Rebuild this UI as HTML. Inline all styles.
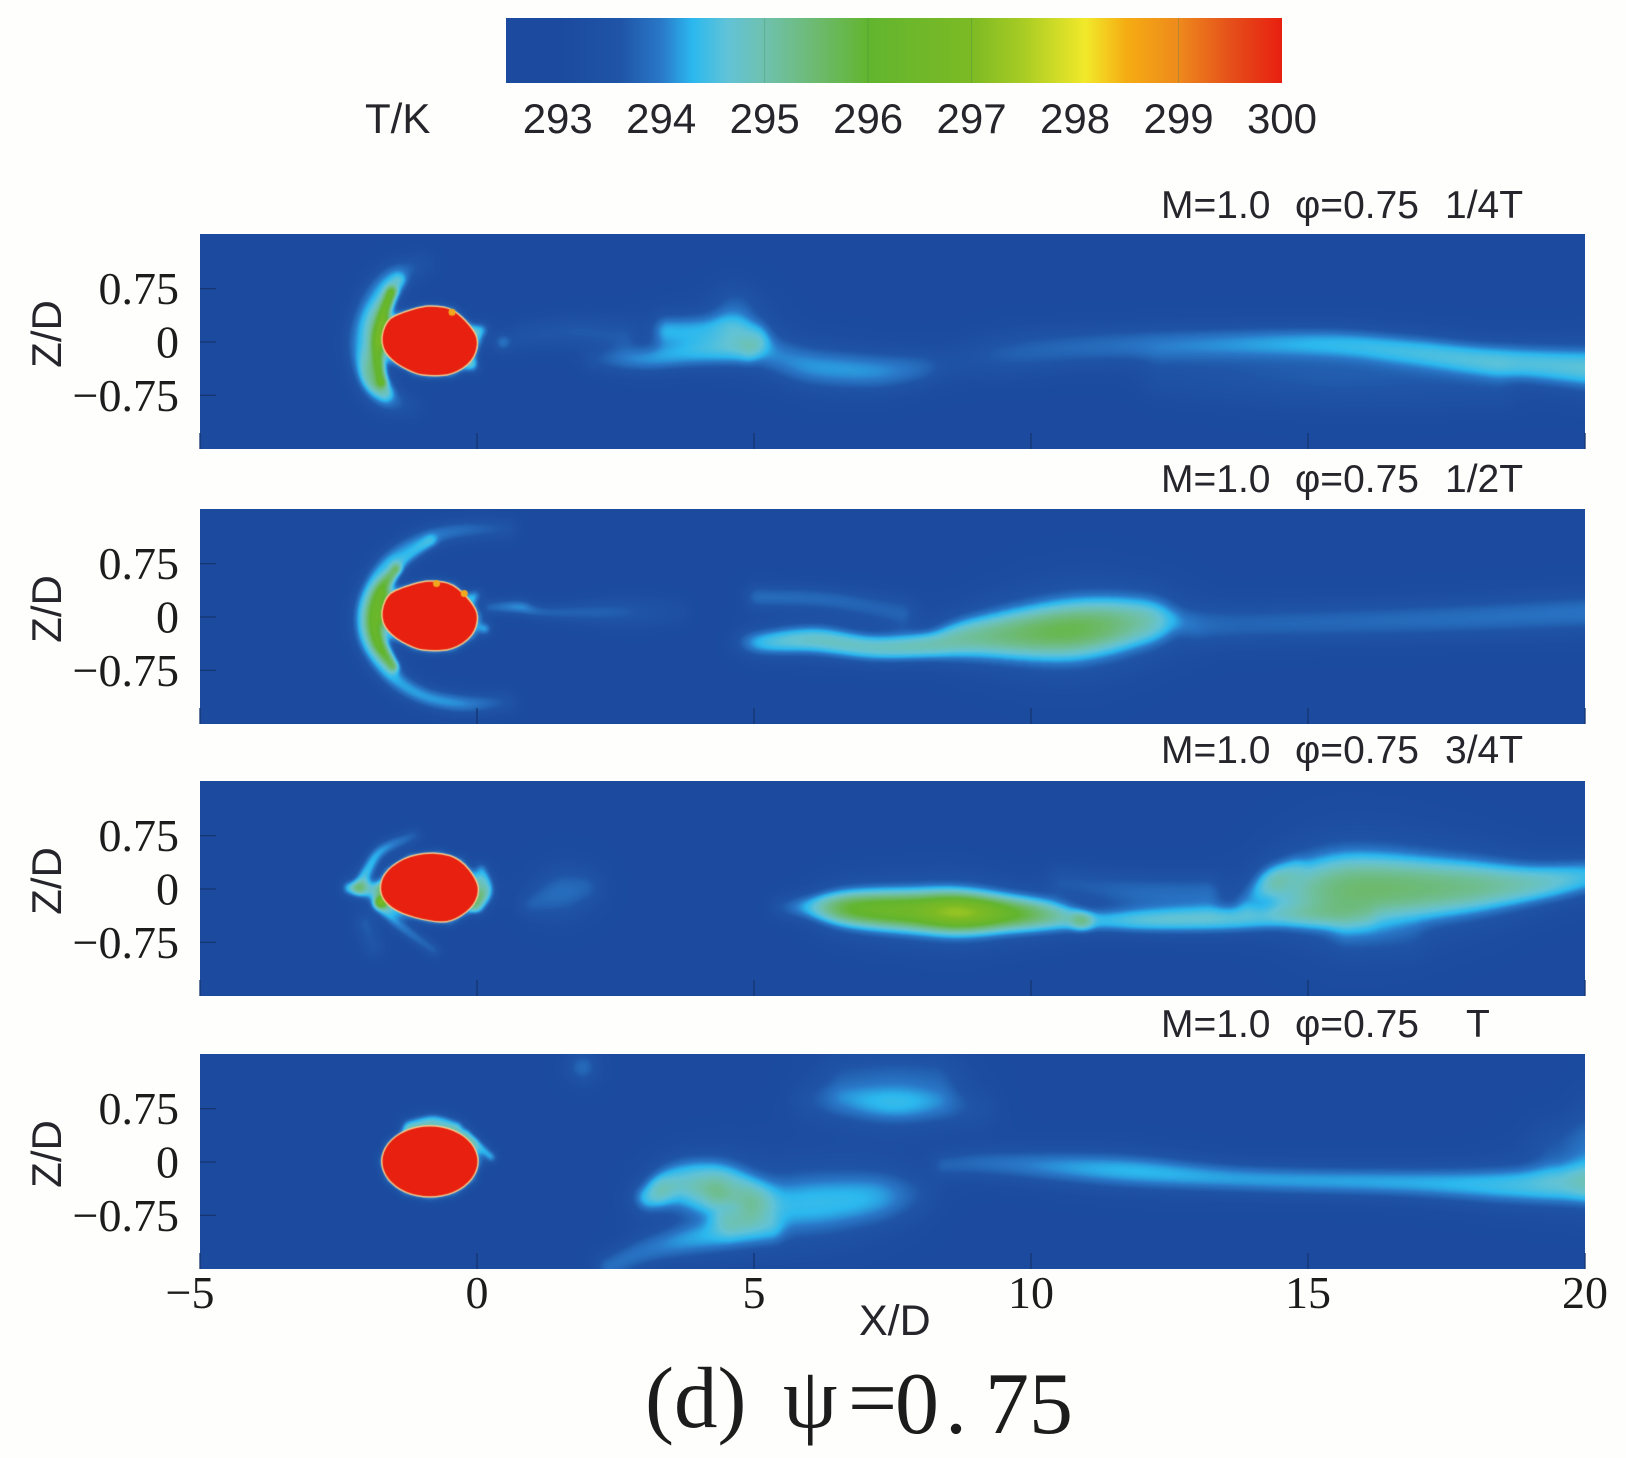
<!DOCTYPE html>
<html lang="en">
<head>
<meta charset="utf-8">
<title>Temperature contours ψ=0.75</title>
<style>
html,body{margin:0;padding:0;background:#fefefd;}
#stage{position:relative;width:1626px;height:1458px;overflow:hidden;background:#fefefd;}
canvas{position:absolute;display:block;}
svg{position:absolute;left:0;top:0;}
.sans{font-family:"Liberation Sans","DejaVu Sans",sans-serif;fill:#25252b;}
.serif{font-family:"Liberation Serif","DejaVu Serif",serif;fill:#1c1c1c;}
</style>
</head>
<body>
<div id="stage">
  <canvas id="p0" width="1385" height="215" style="left:200px;top:234px"></canvas>
  <canvas id="p1" width="1385" height="215" style="left:200px;top:509px"></canvas>
  <canvas id="p2" width="1385" height="215" style="left:200px;top:781px"></canvas>
  <canvas id="p3" width="1385" height="215" style="left:200px;top:1054px"></canvas>
  <svg id="ov" width="1626" height="1458" viewBox="0 0 1626 1458" xmlns="http://www.w3.org/2000/svg">
    <defs><linearGradient id="cbGrad" x1="0" x2="1" y1="0" y2="0"></linearGradient></defs>
    <rect id="cbRect" x="506" y="18" width="776" height="65" fill="url(#cbGrad)"></rect>
    <g id="cbLines"></g>
    <text class="sans" x="365" y="133" font-size="42">T/K</text>
    <g id="cbLabels"></g>

    <g class="sans" font-size="39">
      <text class="sans" x="1161" y="218">M=1.0</text><text class="sans" x="1295" y="218">φ=0.75</text><text class="sans" x="1445" y="218">1/4T</text>
    </g>
    <g class="sans" font-size="39">
      <text class="sans" x="1161" y="492">M=1.0</text><text class="sans" x="1295" y="492">φ=0.75</text><text class="sans" x="1445" y="492">1/2T</text>
    </g>
    <g class="sans" font-size="39">
      <text class="sans" x="1161" y="763">M=1.0</text><text class="sans" x="1295" y="763">φ=0.75</text><text class="sans" x="1445" y="763">3/4T</text>
    </g>
    <g class="sans" font-size="39">
      <text class="sans" x="1161" y="1037">M=1.0</text><text class="sans" x="1295" y="1037">φ=0.75</text><text class="sans" x="1466" y="1037">T</text>
    </g>

    <g id="axes"></g>

    <text class="sans" x="859" y="1335" font-size="43">X/D</text>

    <g>
      <text class="serif" x="645" y="1427" font-size="87">(d)</text>
      <text class="serif" x="783" y="1427" font-size="87">ψ</text>
      <text class="serif" x="848" y="1427" font-size="87">=</text>
      <text class="serif" x="895" y="1433" font-size="88">0</text>
      <text class="serif" x="945" y="1433" font-size="88">.</text>
      <text class="serif" x="985" y="1433" font-size="88">75</text>
    </g>
  </svg>
</div>
<script>
/* ---------- data ---------- */
const colorbarTemps  = [292.5,293,293.6,294,294.3,294.65,295,295.5,296,297,297.5,298.1,298.5,299,299.5,300];
const colorbarColors = ['#1b4a9e','#1b4a9e','#1f54a6','#2a78c8','#2bb8ef','#62c3d6','#6fc1ae','#6dba70','#62b52f','#7cba24','#a8cc24','#f2e92a','#f5ac12','#ee8a1c','#e5501a','#e81f10'];
const colorbarTicks  = [293,294,295,296,297,298,299,300];
const colorbarLevelLines = [295,296,297,299];
const xTicks = [-5,0,5,10,15,20];
const xTickLabels = ['−5','0','5','10','15','20'];
const zTicks = [0.75,0,-0.75];
const zTickLabels = ['0.75','0','−0.75'];
const baseTemp = 293;

/* Cylinder outlines, [x/D, z/D] */
const cylinderA = [[-1.73,-0.01],[-1.62,.31],[-1.30,.42],[-.98,.49],[-.77,.50],[-.45,.465],[-.12,.22],[.02,.01],[-.09,-.27],[-.45,-.45],[-.84,-.47],[-1.12,-.435],[-1.55,-.25]];
const cylinderC = [[-1.75,.03],[-1.62,.27],[-1.22,.464],[-.70,.51],[-.30,.408],[-.02,.127],[.02,-.06],[-.11,-.27],[-.48,-.46],[-.85,-.445],[-1.37,-.34],[-1.66,-.18]];
const cylinderD = [[.03,.01],[-.09,.26],[-.41,.447],[-.85,.515],[-1.29,.447],[-1.61,.26],[-1.73,.01],[-1.61,-.244],[-1.29,-.429],[-.85,-.497],[-.41,-.429],[-.09,-.244]];

/* Hot spots on the cylinder rim, [x/D, z/D] */
const hotSpotsA = [[-.45,.42]];
const hotSpotsB = [[-.73,.47],[-.23,.33]];

/* Temperature field: ribbons of knots [x/D, z/D, width, rise in K] */
const panelAStrokes = [
 [[-.98,1.11,.18,.4],[-1.55,.92,.19,1.0],[-1.94,.55,.19,1.0],[-2.16,.03,.17,.95],[-2.02,-.435,.17,1.0],[-1.70,-.76,.19,1.0],[-1.23,-.90,.18,.4]],
 [[-1.41,.85,.1,.9],[-1.80,.36,.14,1.1],[-1.91,-.06,.14,1.1],[-1.91,-.48,.14,1.1],[-1.66,-.69,.11,.9]],
 [[-1.55,.71,.04,2.0],[-1.73,.3,.06,2.4],[-1.8,.03,.07,2.4],[-1.78,-.3,.06,2.4],[-1.72,-.55,.05,2.0]],
 [[.46,0,.11,.9]],
 [[.05,.17,.09,1.3]],
 [[-.09,-.34,.08,1.0]],
 [[.87,.1,.2,.55],[1.8,.15,.2,.65],[2.6,.1,.2,.6]],
 [[2.09,-.25,.1,.5],[2.94,-.24,.12,1.0],[3.94,-.18,.12,1.05],[4.8,-.15,.13,.95]],
 [[3.44,.17,.17,1.2],[4.3,.15,.2,1.15],[5.0,.08,.18,1.15]],
 [[4.66,.46,.3,.7]],
 [[5.2,-.14,.18,.7],[5.5,-.22,.24,.95],[6.09,-.34,.26,1.15],[7.16,-.4,.24,1.12],[7.94,-.365,.2,.85],[8.4,-.32,.18,.4]],
 [[8.9,-.22,.22,.45],[9.6,-.16,.25,.72],[10.9,-.07,.22,.84],[13.13,-.01,.18,.98],[15.34,-.01,.17,1.2],[16.8,-.11,.18,1.32],[18.29,-.25,.2,1.45],[20.2,-.37,.28,1.65]],
 [[12.4,-.45,.3,.4],[15.34,-.53,.36,.62],[18.29,-.62,.3,.4]]
];
const panelBStrokes = [
 [[.52,1.25,.14,.6],[-.34,1.22,.14,.9],[-1.05,1.08,.14,1.0],[-1.62,.78,.14,1.15],[-1.94,.36,.15,1.3],[-2.05,-.02,.15,1.3],[-1.94,-.4,.15,1.3],[-1.55,-.82,.15,1.25],[-.98,-1.1,.14,1.2],[-.27,-1.21,.14,1.1],[.52,-1.19,.14,.6]],
 [[-1.48,.66,.05,2.0],[-1.73,.36,.09,2.6],[-1.84,0,.11,2.7],[-1.77,-.35,.09,2.6],[-1.52,-.68,.05,2.0]],
 [[-1.41,.73,.07,.9],[-.84,1.06,.07,.7]],
 [[.23,.145,.08,.8],[.77,.145,.09,1.15],[1.23,.075,.08,.8],[2.52,.075,.13,.72],[3.6,.075,.13,.3]],
 [[.13,-.16,.07,1.25]],
 [[-.05,.31,.07,1.1]],
 [[4.75,-.35,.1,.5],[5.16,-.35,.12,1.4],[6.09,-.32,.14,1.8],[7.13,-.42,.12,1.8],[8.16,-.39,.14,1.95],[9,-.28,.27,2.2],[10.65,-.18,.42,2.75],[11.9,-.07,.36,2.1],[12.4,-.04,.24,1.3]],
 [[5.06,.29,.1,.85],[6.3,.26,.1,.8],[7.65,.075,.15,.72]],
 [[13.03,-.11,.22,.78],[15.42,-.07,.22,.82],[17.5,-.02,.22,.88],[20.2,.075,.24,.94]]
];
const panelCStrokes = [
 [[-2.32,.02,.08,1.3],[-1.81,-.01,.12,1.5]],
 [[-1.15,.76,.08,.75],[-1.73,.55,.08,1.25],[-1.99,.27,.08,1.4],[-2.14,.03,.08,1.3]],
 [[-1.77,-.2,.07,1.5],[-1.44,-.48,.07,1.1],[-.78,-.86,.07,.75]],
 [[-2.03,-.48,.14,.7],[-1.88,-.81,.14,.6]],
 [[.07,.27,.08,1.2],[.14,-.01,.1,1.9],[0,-.23,.08,1.9]],
 [[-1.75,-.18,.05,2.2]],
 [[1,-.2,.2,.75],[1.5,-.05,.36,.88],[1.9,.02,.26,.8]],
 [[5.49,-.25,.08,.6],[6,-.25,.12,1.4],[6.74,-.27,.2,3],[7.85,-.3,.24,3.6],[8.71,-.32,.24,4.3],[9.6,-.34,.2,3.2],[10.33,-.37,.16,2.2],[10.92,-.44,.06,1.2]],
 [[10.92,-.44,.07,1.1],[12.03,-.44,.1,1.5],[13.43,-.42,.12,1.5],[14.6,-.4,.1,1.0],[16,-.38,.1,.35]],
 [[13.9,-.15,.1,.6],[14.3,.12,.13,.95],[14.7,.3,.1,.5]],
 [[14.7,-.02,.38,1.55],[15.71,.01,.55,2.45],[17.55,.03,.42,2.35],[19,.08,.26,1.9],[20.2,.2,.2,1.3]],
 [[10.55,.13,.15,.55],[11.8,-.02,.2,.78],[13.13,-.04,.2,.78]],
 [[15.71,-.67,.2,.35],[16.8,-.72,.2,.3]]
];
const panelDStrokes = [
 [[-1.23,.52,.08,1.3],[-.79,.59,.08,1.4],[-.38,.5,.08,1.3]],
 [[-.2,.4,.045,1.3],[.25,.075,.045,1.35]],
 [[1.9,1.34,.2,.85]],
 [[5.99,.87,.2,.45],[7.1,.8,.2,.6],[7.98,.78,.2,.62],[9.07,.75,.2,.4]],
 [[6.73,1.1,.42,.72],[7.47,1.05,.5,.85],[8.2,1.1,.44,.76]],
 [[3.05,-.49,.14,1.1],[3.64,-.2,.22,1.2],[4.4,-.28,.3,1.5],[4.89,-.55,.32,1.3],[4.6,-.75,.22,1.05]],
 [[3.4,-.45,.2,.9],[4.2,-.52,.25,1.0]],
 [[5.1,-.6,.34,.8],[5.99,-.58,.48,1.3],[7.1,-.5,.4,1.25],[7.8,-.46,.3,.7]],
 [[2.38,-1.47,.15,.9],[3.05,-1.24,.17,.95],[4,-1.07,.2,1.1],[5.26,-.98,.16,.7]],
 [[8.43,-.04,.1,.7],[9.35,-.02,.15,.9],[11.6,-.11,.2,1.3],[13.85,-.23,.15,1.2],[16.65,-.28,.16,1.25],[18.52,-.32,.22,1.4],[20.2,-.32,.26,1.6]],
 [[20.4,.25,.72,1.1],[19.5,.2,.4,.55]]
];
const panelStrokes = [panelAStrokes,panelBStrokes,panelCStrokes,panelDStrokes];
const panelCylinders = [cylinderA,cylinderA,cylinderC,cylinderD];
const panelHotSpots = [hotSpotsA,hotSpotsB,[],[]];

/* ---------- scales ---------- */
const PLOT_LEFT = 200, PX_PER_X = 55.4, PX_PER_Z = 71.1, PANEL_H = 215, ZERO_OFFSET = 108;
const panelTop = [234, 509, 781, 1054];
const xScale = x => (x + 5) * PX_PER_X;
const zScale = z => ZERO_OFFSET - z * PX_PER_Z;
const ASPECT = PX_PER_Z / PX_PER_X;
const svgNS = 'http://www.w3.org/2000/svg';

/* ---------- colormap ---------- */
function hex(c){return [parseInt(c.slice(1,3),16),parseInt(c.slice(3,5),16),parseInt(c.slice(5,7),16)];}
const LUT_N = 2048, T_LO = 292.5, T_HI = 300.5;
const lut = new Uint8ClampedArray(LUT_N*3);
(function(){
  const rgb = colorbarColors.map(hex);
  for(let i=0;i<LUT_N;i++){
    const T = T_LO + (T_HI-T_LO)*i/(LUT_N-1);
    let k=0;
    while(k<colorbarTemps.length-2 && T>colorbarTemps[k+1]) k++;
    let f=(T-colorbarTemps[k])/(colorbarTemps[k+1]-colorbarTemps[k]);
    f=Math.max(0,Math.min(1,f));
    for(let c=0;c<3;c++) lut[i*3+c]=rgb[k][c]+(rgb[k+1][c]-rgb[k][c])*f;
  }
})();

/* ---------- field helpers ---------- */
function extraWidth(x){
  if(x<1) return .045;
  if(x>3) return .12;
  return .045+(x-1)/2*.075;
}
function smoothStroke(st){
  if(st.length<3) return st.map(k=>[k[0],k[1],k[2]+extraWidth(k[0]),k[3]]);
  const out=[];
  const n=st.length, SUB=8;
  for(let i=0;i<n-1;i++){
    const p0=st[Math.max(0,i-1)],p1=st[i],p2=st[i+1],p3=st[Math.min(n-1,i+2)];
    for(let s=0;s<SUB;s++){
      const t=s/SUB,t2=t*t,t3=t2*t;
      const q=[0,0,0,0];
      for(let c=0;c<4;c++){
        q[c]=.5*(2*p1[c]+(p2[c]-p0[c])*t+(2*p0[c]-5*p1[c]+4*p2[c]-p3[c])*t2+(3*p1[c]-p0[c]-3*p2[c]+p3[c])*t3);
      }
      q[2]=Math.max(.02,q[2])+extraWidth(q[0]);
      q[3]=Math.max(0,q[3]);
      out.push(q);
    }
  }
  const l=st[n-1];
  out.push([l[0],l[1],l[2]+extraWidth(l[0]),l[3]]);
  return out;
}
function blurField(src,W,H,r,passes){
  let a=src, b=new Float32Array(W*H);
  const norm=1/(2*r+1);
  for(let p=0;p<passes;p++){
    for(let y=0;y<H;y++){
      let sum=0;
      for(let x=-r;x<=r;x++) sum+=a[y*W+Math.max(0,Math.min(W-1,x))];
      for(let x=0;x<W;x++){
        b[y*W+x]=sum*norm;
        sum+=a[y*W+Math.min(W-1,x+r+1)]-a[y*W+Math.max(0,x-r)];
      }
    }
    for(let x=0;x<W;x++){
      let sum=0;
      for(let y=-r;y<=r;y++) sum+=b[Math.max(0,Math.min(H-1,y))*W+x];
      for(let y=0;y<H;y++){
        a[y*W+x]=sum*norm;
        sum+=b[Math.min(H-1,y+r+1)*W+x]-b[Math.max(0,y-r)*W+x];
      }
    }
  }
  return a;
}

/* ---------- field ---------- */
function renderPanel(idx){
  const cv = document.getElementById('p'+idx);
  const ctx = cv.getContext('2d');
  const W = cv.width, H = cv.height;
  const total = new Float32Array(W*H);
  const buf = new Float32Array(W*H);
  const outline = panelCylinders[idx];
  const haloRing = outline.concat([outline[0]]).map(p=>[p[0],p[1],.075,1.05]);
  const strokes = panelStrokes[idx].map(smoothStroke).concat([haloRing]);
  for(const st of strokes){
    buf.fill(0);
    const segs = st.length===1 ? [[st[0],st[0]]] : st.slice(1).map((k,i)=>[st[i],k]);
    for(const [a,b] of segs){
      const reach = Math.max(a[2],b[2])*3.4;
      const x0=Math.max(0,Math.floor(xScale(Math.min(a[0],b[0])-reach)));
      const x1=Math.min(W-1,Math.ceil(xScale(Math.max(a[0],b[0])+reach)));
      const y0=Math.max(0,Math.floor(zScale(Math.max(a[1],b[1])+reach/ASPECT)));
      const y1=Math.min(H-1,Math.ceil(zScale(Math.min(a[1],b[1])-reach/ASPECT)));
      const ax=a[0], az=a[1]*ASPECT, bx=b[0], bz=b[1]*ASPECT;
      const dx=bx-ax, dz=bz-az, len2=dx*dx+dz*dz;
      for(let py=y0;py<=y1;py++){
        const pz=(ZERO_OFFSET-py)/PX_PER_Z*ASPECT;
        for(let px=x0;px<=x1;px++){
          const qx=px/PX_PER_X-5;
          let t = len2>0 ? ((qx-ax)*dx+(pz-az)*dz)/len2 : 0;
          t = t<0?0:t>1?1:t;
          const ex=qx-(ax+dx*t), ez=pz-(az+dz*t);
          const w=a[2]+(b[2]-a[2])*t, amp=a[3]+(b[3]-a[3])*t;
          const d=Math.sqrt(ex*ex+ez*ez)/w;
          const v=amp*(.8*Math.exp(-Math.pow(d,2.3))+.2*Math.exp(-d*d/3.6));
          const i=py*W+px;
          if(v>buf[i]) buf[i]=v;
        }
      }
    }
    for(let i=0;i<total.length;i++) total[i]+=buf[i];
  }
  blurField(total,W,H,2,2);
  const img = ctx.createImageData(W,H);
  for(let i=0;i<total.length;i++){
    const T=baseTemp+total[i];
    let k=Math.round((T-T_LO)/(T_HI-T_LO)*(LUT_N-1));
    k=k<0?0:k>=LUT_N?LUT_N-1:k;
    img.data[i*4]=lut[k*3];
    img.data[i*4+1]=lut[k*3+1];
    img.data[i*4+2]=lut[k*3+2];
    img.data[i*4+3]=255;
  }
  ctx.putImageData(img,0,0);

  /* cylinder */
  const OUTLINE_GROW = 1.025;
  const cx = outline.reduce((s,p)=>s+p[0],0)/outline.length;
  const cz = outline.reduce((s,p)=>s+p[1],0)/outline.length;
  const pts = outline.map(p=>[xScale(cx+(p[0]-cx)*OUTLINE_GROW),zScale(cz+(p[1]-cz)*OUTLINE_GROW)]);
  ctx.beginPath();
  const n=pts.length;
  ctx.moveTo((pts[n-1][0]+pts[0][0])/2,(pts[n-1][1]+pts[0][1])/2);
  for(let i=0;i<n;i++){
    const nx=pts[(i+1)%n];
    ctx.quadraticCurveTo(pts[i][0],pts[i][1],(pts[i][0]+nx[0])/2,(pts[i][1]+nx[1])/2);
  }
  ctx.closePath();
  ctx.fillStyle='#e8200f';
  ctx.strokeStyle='#f2c98c';
  ctx.lineWidth=1.5;
  ctx.fill();
  ctx.stroke();
  for(const s of panelHotSpots[idx]){
    ctx.beginPath();
    ctx.arc(xScale(s[0]),zScale(s[1]),3.5,0,Math.PI*2);
    ctx.fillStyle='#f2a81e';
    ctx.fill();
  }
}

/* ---------- colorbar ---------- */
const cbX = t => 506 + (t-292.5)/7.5*776;
(function(){
  const grad=document.getElementById('cbGrad');
  colorbarTemps.forEach((t,i)=>{
    const s=document.createElementNS(svgNS,'stop');
    s.setAttribute('offset',((t-292.5)/7.5).toFixed(4));
    s.setAttribute('stop-color',colorbarColors[i]);
    grad.appendChild(s);
  });
  const gl=document.getElementById('cbLabels');
  colorbarTicks.forEach(t=>{
    const el=document.createElementNS(svgNS,'text');
    
    
    el.setAttribute('class','sans');
    el.setAttribute('x',cbX(t));
    el.setAttribute('y',133);
    el.setAttribute('font-size',42);
    el.setAttribute('text-anchor','middle');
    el.textContent=String(t);
    gl.appendChild(el);
  });
  const ll=document.getElementById('cbLines');
  colorbarLevelLines.forEach(t=>{
    const el=document.createElementNS(svgNS,'line');
    
    
    el.setAttribute('x1',cbX(t));
    el.setAttribute('x2',cbX(t));
    el.setAttribute('y1',18);
    el.setAttribute('y2',83);
    el.setAttribute('stroke','#3f7f50');
    el.setAttribute('stroke-opacity','.3');
    el.setAttribute('stroke-width','1');
    ll.appendChild(el);
  });
})();

/* ---------- axes ---------- */
(function(){
  const g=document.getElementById('axes');
  panelTop.forEach((top,p)=>{
    const pg=document.createElementNS(svgNS,'g');
    
    
    g.appendChild(pg);
    xTicks.forEach(v=>{
      const el=document.createElementNS(svgNS,'line');
      
      
      const X=PLOT_LEFT+xScale(v);
      el.setAttribute('x1',X);
      el.setAttribute('x2',X);
      el.setAttribute('y1',top+PANEL_H);
      el.setAttribute('y2',top+PANEL_H-16);
      el.setAttribute('stroke','#16346f');
      el.setAttribute('stroke-width','1.3');
      pg.appendChild(el);
    });
    zTicks.forEach((v,i)=>{
      const Y=top+zScale(v);
      const el=document.createElementNS(svgNS,'line');
      
      
      el.setAttribute('x1',PLOT_LEFT);
      el.setAttribute('x2',PLOT_LEFT+16);
      el.setAttribute('y1',Y);
      el.setAttribute('y2',Y);
      el.setAttribute('stroke','#16346f');
      el.setAttribute('stroke-width','1.2');
      pg.appendChild(el);
      const tx=document.createElementNS(svgNS,'text');
      
      
      tx.setAttribute('class','serif');
      tx.setAttribute('x',179);
      tx.setAttribute('y',Y+15.5);
      tx.setAttribute('font-size',46);
      tx.setAttribute('text-anchor','end');
      tx.textContent=zTickLabels[i];
      pg.appendChild(tx);
    });
    const zt=document.createElementNS(svgNS,'text');
    
    
    zt.setAttribute('class','sans');
    zt.setAttribute('font-size',42);
    zt.setAttribute('text-anchor','middle');
    zt.setAttribute('transform','translate(61,'+(top+ZERO_OFFSET-8)+') rotate(-90)');
    zt.textContent='Z/D';
    pg.appendChild(zt);
  });
  xTicks.forEach((v,i)=>{
    const tx=document.createElementNS(svgNS,'text');
    
    
    tx.setAttribute('class','serif');
    tx.setAttribute('x',PLOT_LEFT+xScale(v)-(v<0?10:0));
    tx.setAttribute('y',1308);
    tx.setAttribute('font-size',46);
    tx.setAttribute('text-anchor','middle');
    tx.textContent=xTickLabels[i];
    g.appendChild(tx);
  });
})();

for(let i=0;i<4;i++) renderPanel(i);
</script>
</body>
</html>
